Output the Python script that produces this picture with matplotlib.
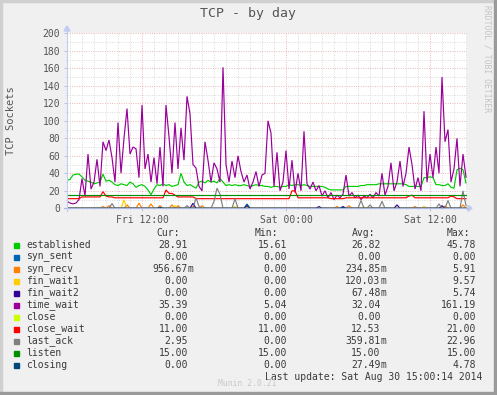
"""Munin 'TCP - by day' graph, redrawn with matplotlib."""
import matplotlib
matplotlib.use("Agg")
import matplotlib.pyplot as plt
import numpy as np
from matplotlib.patches import Rectangle, Polygon

W, H = 497, 395
MONO = "DejaVu Sans Mono"

# time axis: hours since Fri 00:00, one sample every 15 min
T0 = 5.75
STEP = 0.25
X_END = 39.0833

time_wait = [8, 6, 5.04, 6, 10, 34, 14, 62, 22, 30,
             56, 25, 76, 66, 78, 58, 30, 98, 40, 80,
             114, 62, 70, 68, 35, 118, 45, 62, 30, 58,
             28, 70, 25, 118, 82, 40, 98, 45, 92, 55,
             128, 108, 50, 46, 25, 20, 76, 55, 30, 52,
             45, 30, 161.19, 50, 30, 54, 35, 60, 42, 30,
             38, 22, 30, 42, 25, 38, 40, 100, 86, 25,
             64, 20, 30, 66, 22, 55, 18, 40, 20, 88,
             28, 22, 30, 20, 26, 14, 20, 12, 18, 10,
             15, 12, 16, 38, 14, 18, 12, 15, 10, 14,
             12, 16, 12, 18, 14, 40, 15, 25, 52, 20,
             30, 54, 25, 40, 70, 50, 22, 35, 20, 111,
             30, 62, 35, 70, 40, 150, 76, 90, 30, 45,
             80, 25, 62, 35.39]

established = [32, 33, 38, 39, 39, 36, 32, 31, 30, 28,
               29, 30, 39, 31, 32, 30, 27, 26, 28, 27,
               26, 30, 28, 24, 26, 27, 25, 21, 15.61, 22,
               27, 26, 28, 26, 27, 25, 26, 27, 40, 30,
               26, 27, 25, 23, 30, 31, 29, 32, 30, 31,
               29, 34, 30, 26, 27, 26, 27, 26, 26, 27,
               26, 25, 26, 27, 26, 26, 25, 25, 24, 25,
               25, 24, 25, 25, 27, 26, 27, 27, 26, 27,
               26, 25, 25, 25, 25, 25, 24, 22, 21, 21,
               21, 21, 21, 25, 25, 25, 25, 25, 26, 26,
               27, 27, 27, 27, 28, 28, 28, 28, 28, 28,
               28, 28, 28, 27, 25, 25, 25, 25, 25, 35,
               35, 36, 35, 27, 27, 26, 26, 28, 24, 23,
               44, 45.78, 44, 28.91]

close_wait = [11, 11, 11, 11, 11, 13, 13, 13, 13, 13,
              13, 13, 19, 14, 13, 13, 12, 12, 12, 12,
              12, 12, 12, 12, 12, 12, 12, 12, 12, 12,
              12, 12, 12, 21, 17, 17, 15, 13, 13, 13,
              13, 13, 13, 11, 11, 11, 11, 11, 11, 11,
              11, 11, 11, 11, 11, 11, 11, 11, 11, 11,
              11, 11, 11, 11, 11, 11, 11, 11, 11, 11,
              11, 11, 11, 11, 11, 20, 20, 12, 12, 12,
              12, 12, 12, 12, 12, 12, 12, 12, 11, 11,
              11, 11, 11, 12, 12, 12, 12, 12, 12, 12,
              12, 12, 12, 12, 12, 12, 12, 12, 12, 12,
              12, 12, 12, 12, 14, 15, 12, 12, 12, 12,
              12, 12, 12, 12, 12, 12, 12, 12, 14, 13,
              11, 11, 11, 11]

listen_level = 15.0

# sparse series: sample index -> value (zero elsewhere)
syn_recv_idx = [12, 14, 20, 24, 28, 31, 35, 37, 42, 45, 60, 90, 94, 116, 126, 132]
syn_recv_val = [2, 3, 4, 5.91, 5, 3, 4, 3, 2, 3, 1.5, 2, 3, 2, 2.5, 4]
fin_wait1_idx = [19, 36, 56, 99, 119, 125]
fin_wait1_val = [9.57, 3, 2, 1.5, 2, 1.5]
fin_wait2_idx = [42, 60, 84, 92, 110, 125]
fin_wait2_val = [5.74, 3, 2, 2, 3.9, 3]
last_ack_idx = [15, 40, 43, 44, 49, 50, 51, 56, 98, 101, 105, 124, 127, 132, 133]
last_ack_val = [5.5, 3, 12, 2, 8, 22.96, 16, 11, 9, 4, 8, 5, 9, 20, 2.95]
closing_idx = [31, 60, 92]
closing_val = [1, 4.78, 1]

names = ["established", "syn_sent", "syn_recv", "fin_wait1", "fin_wait2",
         "time_wait", "close", "close_wait", "last_ack", "listen", "closing"]
colors = ["#00CC00", "#0066B3", "#FF8000", "#FFCC00", "#330099",
          "#990099", "#CCFF00", "#FF0000", "#808080", "#008F00", "#00487D"]
cur = ["28.91", "0.00", "956.67m", "0.00", "0.00", "35.39", "0.00", "11.00", "2.95", "15.00", "0.00"]
mins = ["15.61", "0.00", "0.00", "0.00", "0.00", "5.04", "0.00", "11.00", "0.00", "15.00", "0.00"]
avgs = ["26.82", "0.00", "234.85m", "120.03m", "67.48m", "32.04", "0.00", "12.53", "359.81m", "15.00", "27.49m"]
maxs = ["45.78", "0.00", "5.91", "9.57", "5.74", "161.19", "0.00", "21.00", "22.96", "15.00", "4.78"]


def px(x, y):
    return x / W, 1 - y / H


def sparse(idx, val, n):
    a = np.zeros(n)
    a[idx] = val
    return a


n = len(time_wait)
t = T0 + STEP * np.arange(n)
series = {
    "established": np.array(established),
    "syn_sent": np.zeros(n),
    "syn_recv": sparse(syn_recv_idx, syn_recv_val, n),
    "fin_wait1": sparse(fin_wait1_idx, fin_wait1_val, n),
    "fin_wait2": sparse(fin_wait2_idx, fin_wait2_val, n),
    "time_wait": np.array(time_wait),
    "close": np.zeros(n),
    "close_wait": np.array(close_wait),
    "last_ack": sparse(last_ack_idx, last_ack_val, n),
    "listen": np.full(n, listen_level),
    "closing": sparse(closing_idx, closing_val, n),
}

fig = plt.figure(figsize=(W / 100, H / 100), dpi=100, facecolor="#F0F0F0")
ax = fig.add_axes([67 / W, 1 - 208.3 / H, 400 / W, 175 / H])
ax.set_facecolor("white")
ax.set_axisbelow(True)

for name, c in zip(names, colors):
    ax.plot(t, series[name], color=c, lw=0.85, solid_joinstyle="miter")

ax.set_xlim(T0, X_END)
ax.set_ylim(0, 200)
ax.set_yticks(np.arange(0, 201, 20))
ax.set_yticks(np.arange(0, 201, 10), minor=True)
ax.set_xticks([12, 24, 36])
ax.set_xticklabels(["Fri 12:00", "Sat 00:00", "Sat 12:00"])
ax.set_xticks(np.arange(6, 40, 1), minor=True)
dots = (0, (1, 1.6))
ax.grid(which="minor", color="#D6D6D6", linestyle=dots, lw=0.65)
ax.grid(which="major", color="#EBADAD", linestyle=dots, lw=0.65)
for s in ax.spines.values():
    s.set_visible(False)
ax.tick_params(which="both", length=2, width=0.7, color="#B8C0E8",
               labelsize=7, labelcolor="#555555", pad=3)
ax.tick_params(which="minor", length=1)
for lab in ax.get_xticklabels() + ax.get_yticklabels():
    lab.set_family(MONO)

# axes with arrows, rrdtool style
axc = "#C2CBF2"
fig.add_artist(plt.Line2D(*zip(px(64, 208.3), px(468, 208.3)), color="#A9B6E0", lw=0.8))
fig.add_artist(plt.Line2D(*zip(px(67, 211), px(67, 30)), color=axc, lw=0.8))
fig.add_artist(Polygon([px(468, 205.3), px(472, 208.3), px(468, 211.3)],
                       closed=True, color=axc, transform=fig.transFigure))
fig.add_artist(Polygon([px(64, 31), px(67, 26), px(70, 31)],
                       closed=True, color=axc, transform=fig.transFigure))

# frame
fig.add_artist(Rectangle(px(0, 395), 2 / W, 1, color="#D0D0D0", transform=fig.transFigure))
fig.add_artist(Rectangle(px(0, 2), 1, 2 / H, color="#D0D0D0", transform=fig.transFigure))
fig.add_artist(Rectangle(px(494, 395), 3 / W, 1, color="#9A9A9A", transform=fig.transFigure))
fig.add_artist(Rectangle(px(0, 395), 1, 3 / H, color="#9A9A9A", transform=fig.transFigure))

txt = dict(family=MONO, va="center")
fig.text(*px(248, 13.5), "TCP - by day", ha="center", fontsize=9.5, color="#555555", **txt)
fig.text(*px(11, 120.5), "TCP Sockets", ha="center", rotation=90, fontsize=7.5,
         color="#555555", **txt)
fig.text(*px(487, 5), "RRDTOOL / TOBI OETIKER", ha="center", va="top", rotation=270,
         fontsize=5.8, color="#C4C4C4", family=MONO)

# legend table
fs = 7
tc = "#3A3A3A"
for x, head in ((156.7, "Cur:"), (255, "Min:"), (351.7, "Avg:"), (446.7, "Max:")):
    fig.text(*px(x, 232.5), head, ha="left", fontsize=fs, color=tc, **txt)

col_x = [188, 287, 380.5, 476]
for i, (name, c) in enumerate(zip(names, colors)):
    y = 245 + 12 * i
    fig.add_artist(Rectangle(px(14, y + 2.5), 5 / W, 5 / H, color=c, transform=fig.transFigure))
    fig.text(*px(26.5, y), name, ha="left", fontsize=fs, color=tc, **txt)
    for x, v in zip(col_x, (cur[i], mins[i], avgs[i], maxs[i])):
        num, suf = (v[:-1], v[-1]) if v.endswith("m") else (v, "")
        fig.text(*px(x, y), num, ha="right", fontsize=fs, color=tc, **txt)
        if suf:
            fig.text(*px(x, y), suf, ha="left", fontsize=fs, color=tc, **txt)

fig.text(*px(482, 377.5), "Last update: Sat Aug 30 15:00:14 2014", ha="right",
         fontsize=fs, color=tc, **txt)
fig.text(*px(247, 384), "Munin 2.0.21", ha="center", fontsize=5.8, color="#C8C8C8", **txt)

fig.savefig("out.png", dpi=100, facecolor=fig.get_facecolor())
